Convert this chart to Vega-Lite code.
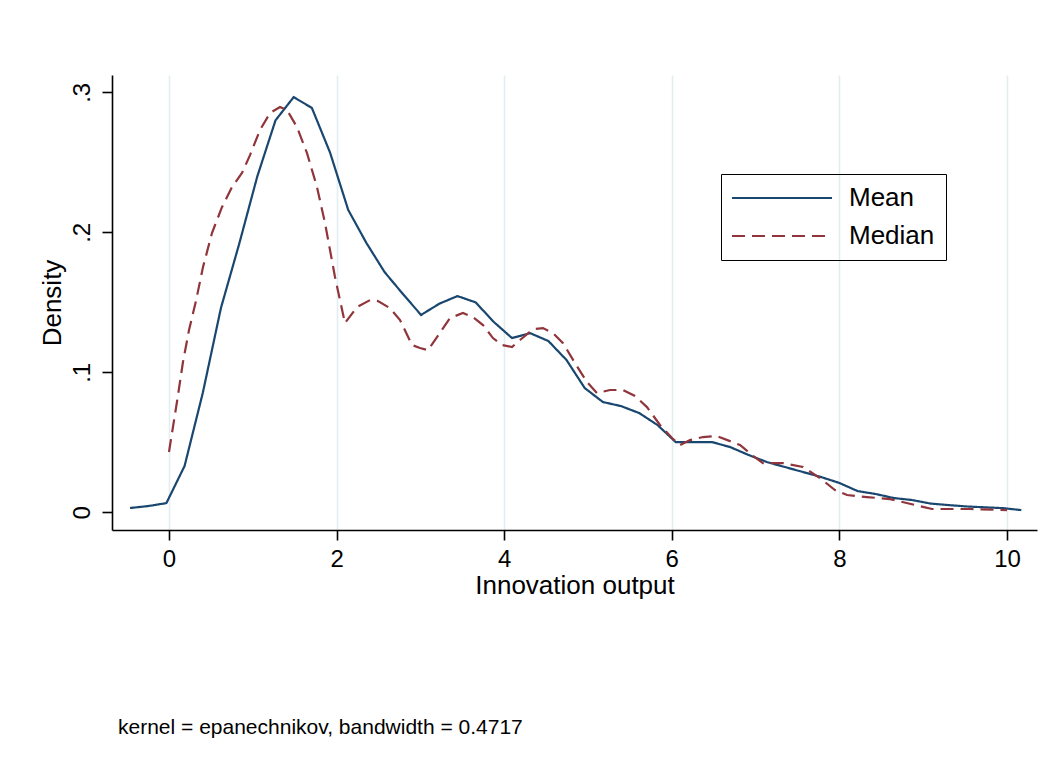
{
  "$schema": "https://vega.github.io/schema/vega-lite/v6.json",
  "width": 925,
  "height": 455,
  "autosize": {"type": "none"},
  "padding": {"left": 112, "top": 75, "right": 17, "bottom": 236},
  "background": "white",
  "config": {
    "font": "Liberation Sans",
    "view": {"stroke": null}
  },
  "title": {
    "text": "kernel = epanechnikov, bandwidth = 0.4717",
    "orient": "bottom",
    "anchor": "start",
    "frame": "group",
    "dx": 6,
    "offset": 119,
    "fontSize": 21,
    "fontWeight": "normal",
    "font": "Liberation Sans",
    "color": "#000000",
    "baseline": "top"
  },
  "data": {
    "values": [
      {"series": "Mean", "x": -0.465, "density": 0.0031},
      {"series": "Mean", "x": -0.248, "density": 0.0045},
      {"series": "Mean", "x": -0.031, "density": 0.0066},
      {"series": "Mean", "x": 0.186, "density": 0.0331},
      {"series": "Mean", "x": 0.403, "density": 0.0852},
      {"series": "Mean", "x": 0.620, "density": 0.146},
      {"series": "Mean", "x": 0.837, "density": 0.1916},
      {"series": "Mean", "x": 1.054, "density": 0.240},
      {"series": "Mean", "x": 1.271, "density": 0.280},
      {"series": "Mean", "x": 1.488, "density": 0.2966},
      {"series": "Mean", "x": 1.705, "density": 0.2889},
      {"series": "Mean", "x": 1.922, "density": 0.257},
      {"series": "Mean", "x": 2.139, "density": 0.216},
      {"series": "Mean", "x": 2.356, "density": 0.1924},
      {"series": "Mean", "x": 2.573, "density": 0.1716},
      {"series": "Mean", "x": 2.791, "density": 0.156},
      {"series": "Mean", "x": 3.008, "density": 0.141},
      {"series": "Mean", "x": 3.225, "density": 0.149},
      {"series": "Mean", "x": 3.442, "density": 0.1545},
      {"series": "Mean", "x": 3.659, "density": 0.150},
      {"series": "Mean", "x": 3.876, "density": 0.136},
      {"series": "Mean", "x": 4.093, "density": 0.1245},
      {"series": "Mean", "x": 4.310, "density": 0.128},
      {"series": "Mean", "x": 4.527, "density": 0.1224},
      {"series": "Mean", "x": 4.744, "density": 0.1088},
      {"series": "Mean", "x": 4.961, "density": 0.0888},
      {"series": "Mean", "x": 5.178, "density": 0.0788},
      {"series": "Mean", "x": 5.395, "density": 0.0759},
      {"series": "Mean", "x": 5.612, "density": 0.0709},
      {"series": "Mean", "x": 5.829, "density": 0.0624},
      {"series": "Mean", "x": 6.047, "density": 0.0502},
      {"series": "Mean", "x": 6.264, "density": 0.0502},
      {"series": "Mean", "x": 6.481, "density": 0.0502},
      {"series": "Mean", "x": 6.698, "density": 0.0466},
      {"series": "Mean", "x": 6.915, "density": 0.041},
      {"series": "Mean", "x": 7.132, "density": 0.036},
      {"series": "Mean", "x": 7.349, "density": 0.0324},
      {"series": "Mean", "x": 7.566, "density": 0.0288},
      {"series": "Mean", "x": 7.783, "density": 0.0252},
      {"series": "Mean", "x": 8.000, "density": 0.021},
      {"series": "Mean", "x": 8.217, "density": 0.0152},
      {"series": "Mean", "x": 8.434, "density": 0.0131},
      {"series": "Mean", "x": 8.651, "density": 0.0102},
      {"series": "Mean", "x": 8.868, "density": 0.0088},
      {"series": "Mean", "x": 9.086, "density": 0.0063},
      {"series": "Mean", "x": 9.303, "density": 0.0052},
      {"series": "Mean", "x": 9.520, "density": 0.0042},
      {"series": "Mean", "x": 9.737, "density": 0.0036},
      {"series": "Mean", "x": 9.954, "density": 0.003},
      {"series": "Mean", "x": 10.171, "density": 0.0016},

      {"series": "Median", "x": 0.000, "density": 0.0431},
      {"series": "Median", "x": 0.095, "density": 0.0788},
      {"series": "Median", "x": 0.167, "density": 0.1074},
      {"series": "Median", "x": 0.239, "density": 0.1302},
      {"series": "Median", "x": 0.322, "density": 0.151},
      {"series": "Median", "x": 0.406, "density": 0.1752},
      {"series": "Median", "x": 0.513, "density": 0.1995},
      {"series": "Median", "x": 0.632, "density": 0.218},
      {"series": "Median", "x": 0.752, "density": 0.2324},
      {"series": "Median", "x": 0.871, "density": 0.2424},
      {"series": "Median", "x": 0.967, "density": 0.2552},
      {"series": "Median", "x": 1.086, "density": 0.2731},
      {"series": "Median", "x": 1.205, "density": 0.2852},
      {"series": "Median", "x": 1.325, "density": 0.2895},
      {"series": "Median", "x": 1.408, "density": 0.2874},
      {"series": "Median", "x": 1.527, "density": 0.2752},
      {"series": "Median", "x": 1.647, "density": 0.2566},
      {"series": "Median", "x": 1.766, "density": 0.2324},
      {"series": "Median", "x": 1.862, "density": 0.2066},
      {"series": "Median", "x": 1.981, "density": 0.1681},
      {"series": "Median", "x": 2.100, "density": 0.1352},
      {"series": "Median", "x": 2.243, "density": 0.1466},
      {"series": "Median", "x": 2.399, "density": 0.1516},
      {"series": "Median", "x": 2.494, "density": 0.1509},
      {"series": "Median", "x": 2.637, "density": 0.1459},
      {"series": "Median", "x": 2.757, "density": 0.1374},
      {"series": "Median", "x": 2.900, "density": 0.1195},
      {"series": "Median", "x": 2.995, "density": 0.1174},
      {"series": "Median", "x": 3.091, "density": 0.1159},
      {"series": "Median", "x": 3.198, "density": 0.1252},
      {"series": "Median", "x": 3.353, "density": 0.1388},
      {"series": "Median", "x": 3.508, "density": 0.1424},
      {"series": "Median", "x": 3.628, "density": 0.1395},
      {"series": "Median", "x": 3.747, "density": 0.1338},
      {"series": "Median", "x": 3.866, "density": 0.1245},
      {"series": "Median", "x": 3.974, "density": 0.1195},
      {"series": "Median", "x": 4.093, "density": 0.1181},
      {"series": "Median", "x": 4.189, "density": 0.1231},
      {"series": "Median", "x": 4.344, "density": 0.1309},
      {"series": "Median", "x": 4.463, "density": 0.1316},
      {"series": "Median", "x": 4.582, "density": 0.1281},
      {"series": "Median", "x": 4.702, "density": 0.1209},
      {"series": "Median", "x": 4.845, "density": 0.1066},
      {"series": "Median", "x": 4.988, "density": 0.0931},
      {"series": "Median", "x": 5.107, "density": 0.0852},
      {"series": "Median", "x": 5.263, "density": 0.0874},
      {"series": "Median", "x": 5.418, "density": 0.0874},
      {"series": "Median", "x": 5.561, "density": 0.0831},
      {"series": "Median", "x": 5.704, "density": 0.0752},
      {"series": "Median", "x": 5.859, "density": 0.0624},
      {"series": "Median", "x": 6.002, "density": 0.0531},
      {"series": "Median", "x": 6.098, "density": 0.0481},
      {"series": "Median", "x": 6.217, "density": 0.0516},
      {"series": "Median", "x": 6.372, "density": 0.0538},
      {"series": "Median", "x": 6.539, "density": 0.0545},
      {"series": "Median", "x": 6.695, "density": 0.0509},
      {"series": "Median", "x": 6.814, "density": 0.0481},
      {"series": "Median", "x": 6.957, "density": 0.0409},
      {"series": "Median", "x": 7.088, "density": 0.0352},
      {"series": "Median", "x": 7.327, "density": 0.0352},
      {"series": "Median", "x": 7.566, "density": 0.0324},
      {"series": "Median", "x": 7.768, "density": 0.0245},
      {"series": "Median", "x": 7.947, "density": 0.0159},
      {"series": "Median", "x": 8.091, "density": 0.0124},
      {"series": "Median", "x": 8.329, "density": 0.0109},
      {"series": "Median", "x": 8.604, "density": 0.0095},
      {"series": "Median", "x": 9.105, "density": 0.0024},
      {"series": "Median", "x": 9.558, "density": 0.0024},
      {"series": "Median", "x": 10.000, "density": 0.0016}
    ]
  },
  "mark": {"type": "line", "strokeWidth": 2.2, "strokeJoin": "miter", "clip": true},
  "encoding": {
    "x": {
      "field": "x",
      "type": "quantitative",
      "scale": {"domain": [-0.68, 10.358], "nice": false, "zero": false},
      "axis": {
        "title": "Innovation output",
        "values": [0, 2, 4, 6, 8, 10],
        "grid": true,
        "gridColor": "#e4edef",
        "gridWidth": 1.6,
        "domainColor": "#000000",
        "domainWidth": 1.6,
        "tickColor": "#000000",
        "tickWidth": 1.6,
        "tickSize": 10,
        "labelFontSize": 24,
        "labelColor": "#000000",
        "labelBaseline": "alphabetic",
        "labelPadding": 26,
        "labelFlush": false,
        "labelFont": "Liberation Sans",
        "titleFont": "Liberation Sans",
        "titleFontSize": 26,
        "titleFontWeight": "normal",
        "titleColor": "#000000",
        "titleBaseline": "alphabetic",
        "titleY": 63
      }
    },
    "y": {
      "field": "density",
      "type": "quantitative",
      "scale": {"domain": [-0.0126, 0.3124], "nice": false, "zero": false},
      "axis": {
        "title": "Density",
        "values": [0, 0.1, 0.2, 0.3],
        "labelExpr": "datum.value == 0 ? '0' : replace(format(datum.value, '.1f'), '0.', '.')",
        "grid": false,
        "domainColor": "#000000",
        "domainWidth": 1.6,
        "tickColor": "#000000",
        "tickWidth": 1.6,
        "tickSize": 10,
        "labelAngle": -90,
        "labelAlign": "center",
        "labelBaseline": "alphabetic",
        "labelPadding": 13,
        "labelFontSize": 24,
        "labelColor": "#000000",
        "labelFlush": false,
        "labelFont": "Liberation Sans",
        "titleFont": "Liberation Sans",
        "titleFontSize": 26,
        "titleFontWeight": "normal",
        "titleColor": "#000000",
        "titleAngle": -90,
        "titleAlign": "center",
        "titleBaseline": "alphabetic",
        "titleX": -52,
        "titleY": 227.5
      }
    },
    "color": {
      "field": "series",
      "type": "nominal",
      "scale": {"domain": ["Mean", "Median"], "range": ["#1a476f", "#90353b"]},
      "legend": {
        "title": null,
        "orient": "none",
        "legendX": 609,
        "legendY": 99,
        "strokeColor": "#000000",
        "padding": 11,
        "symbolType": "M-1.3,0H8.7",
        "symbolSize": 400,
        "symbolStrokeWidth": 2.2,
        "labelFontSize": 26,
        "labelFont": "Liberation Sans",
        "labelColor": "#000000",
        "labelOffset": 91,
        "rowPadding": 12
      }
    },
    "strokeDash": {
      "field": "series",
      "type": "nominal",
      "scale": {"domain": ["Mean", "Median"], "range": [[1, 0], [13, 7]]},
      "legend": null
    }
  }
}
